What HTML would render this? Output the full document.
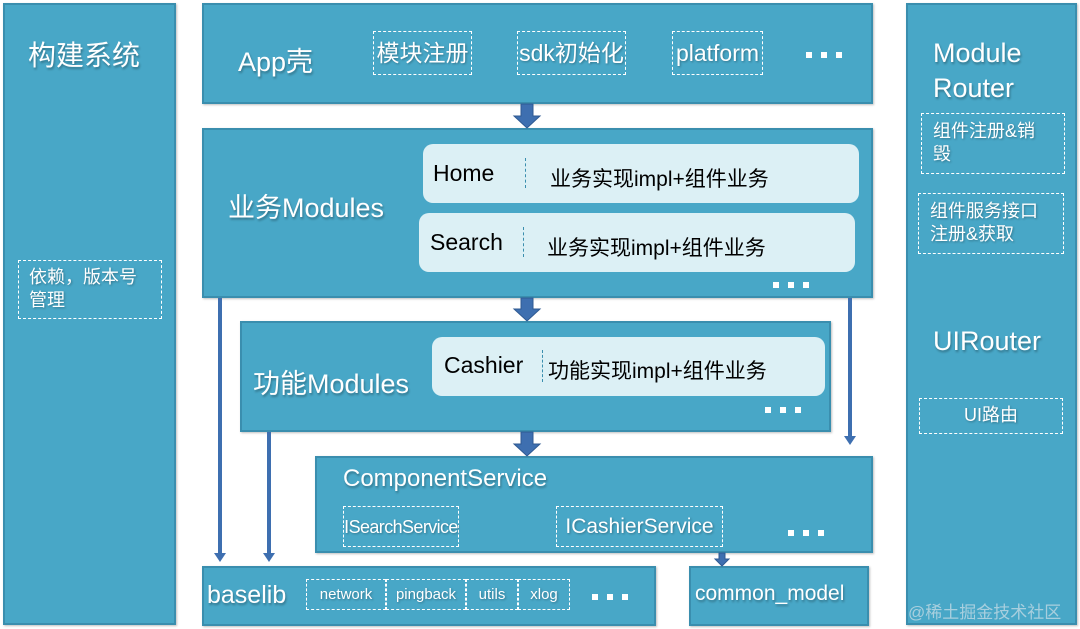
<!DOCTYPE html>
<html><head><meta charset="utf-8"><style>
*{margin:0;padding:0;box-sizing:border-box}
body{width:1080px;height:629px;background:#fff;position:relative;overflow:hidden;font-family:"Liberation Sans","Noto Sans CJK SC",sans-serif}
.b{position:absolute;background:#48a7c7;border:2px solid #3a8eae;box-shadow:1px 1px 2px rgba(0,0,0,.25)}
.t{position:absolute;color:#fff;white-space:nowrap;text-shadow:1px 2px 2px rgba(0,0,0,.3)}
.d{position:absolute;border:1.5px dashed #fff;color:#fff;white-space:nowrap;text-shadow:1px 1px 2px rgba(0,0,0,.3)}
.l{position:absolute;background:#dcf0f5;border-radius:10px;color:#111}
.dots{position:absolute;height:6px;width:38px}
.dots i{position:absolute;top:0;width:6px;height:6px;background:#fff}
.dots i:nth-child(1){left:0}.dots i:nth-child(2){left:15px}.dots i:nth-child(3){left:30px}
.v{position:absolute;border-left:1px dashed #3a8eae;}
</style></head><body>
<div class="b" style="left:3px;top:3px;width:173px;height:622px"></div>
<div class="t" style="left:28px;top:34px;font-size:28px">构建系统</div>
<div class="d" style="left:18px;top:260px;width:144px;height:59px;font-size:18px;line-height:23px;padding:5px 0 0 10px">依赖，版本号<br>管理</div>

<div class="b" style="left:906px;top:3px;width:171px;height:622px"></div>
<div class="t" style="left:933px;top:36px;font-size:27px;line-height:35px">Module<br>Router</div>
<div class="d" style="left:921px;top:113px;width:144px;height:61px;font-size:18px;line-height:23px;padding:6px 0 0 11px">组件注册&amp;销<br>毁</div>
<div class="d" style="left:918px;top:193px;width:146px;height:61px;font-size:18px;line-height:23px;padding:6px 0 0 11px">组件服务接口<br>注册&amp;获取</div>
<div class="t" style="left:933px;top:326px;font-size:27px">UIRouter</div>
<div class="d" style="left:919px;top:398px;width:144px;height:36px;font-size:18px;text-align:center;line-height:32px">UI路由</div>
<div style="position:absolute;left:908px;top:598px;font-size:17px;color:rgba(200,220,230,.75)">@稀土掘金技术社区</div>

<div class="b" style="left:202px;top:3px;width:671px;height:101px"></div>
<div class="t" style="left:238px;top:40px;font-size:27px">App壳</div>
<div class="d" style="left:373px;top:31px;width:99px;height:44px;font-size:23px;text-align:center;line-height:43px">模块注册</div>
<div class="d" style="left:517px;top:31px;width:109px;height:44px;font-size:23px;text-align:center;line-height:43px">sdk初始化</div>
<div class="d" style="left:672px;top:31px;width:91px;height:44px;font-size:23px;text-align:center;line-height:43px">platform</div>
<div class="dots" style="left:806px;top:52px"><i></i><i></i><i></i></div>

<div class="b" style="left:202px;top:128px;width:671px;height:170px"></div>
<div class="t" style="left:228px;top:186px;font-size:27px">业务Modules</div>
<div class="l" style="left:423px;top:144px;width:436px;height:59px"></div>
<div style="position:absolute;left:433px;top:160px;font-size:23px">Home</div>
<div class="v" style="left:525px;top:158px;height:30px"></div>
<div style="position:absolute;left:550px;top:163px;font-size:21px">业务实现impl+组件业务</div>
<div class="l" style="left:419px;top:213px;width:436px;height:59px"></div>
<div style="position:absolute;left:430px;top:229px;font-size:23px">Search</div>
<div class="v" style="left:523px;top:227px;height:30px"></div>
<div style="position:absolute;left:547px;top:232px;font-size:21px">业务实现impl+组件业务</div>
<div class="dots" style="left:773px;top:282px"><i></i><i></i><i></i></div>

<div class="b" style="left:240px;top:321px;width:591px;height:111px"></div>
<div class="t" style="left:253px;top:362px;font-size:27px">功能Modules</div>
<div class="l" style="left:432px;top:337px;width:393px;height:59px"></div>
<div style="position:absolute;left:444px;top:352px;font-size:23px">Cashier</div>
<div class="v" style="left:542px;top:350px;height:32px"></div>
<div style="position:absolute;left:548px;top:355px;font-size:21px">功能实现impl+组件业务</div>
<div class="dots" style="left:765px;top:407px"><i></i><i></i><i></i></div>

<div class="b" style="left:315px;top:456px;width:558px;height:97px"></div>
<div class="t" style="left:343px;top:465px;font-size:24px">ComponentService</div>
<div class="d" style="left:343px;top:506px;width:116px;height:41px;font-size:18px;text-align:center;line-height:40px;letter-spacing:-0.6px">ISearchService</div>
<div class="d" style="left:556px;top:506px;width:167px;height:41px;font-size:21px;text-align:center;line-height:40px">ICashierService</div>
<div class="dots" style="left:788px;top:530px"><i></i><i></i><i></i></div>

<div class="b" style="left:202px;top:566px;width:454px;height:60px"></div>
<div class="t" style="left:207px;top:581px;font-size:25px">baselib</div>
<div class="d" style="left:306px;top:579px;width:80px;height:31px;font-size:15px;text-align:center;line-height:30px">network</div>
<div class="d" style="left:386px;top:579px;width:80px;height:31px;font-size:15px;text-align:center;line-height:30px">pingback</div>
<div class="d" style="left:466px;top:579px;width:52px;height:31px;font-size:15px;text-align:center;line-height:30px">utils</div>
<div class="d" style="left:518px;top:579px;width:52px;height:31px;font-size:15px;text-align:center;line-height:30px">xlog</div>
<div class="dots" style="left:592px;top:594px"><i></i><i></i><i></i></div>

<div class="b" style="left:689px;top:566px;width:180px;height:60px"></div>
<div class="t" style="left:695px;top:582px;font-size:21px">common_model</div>

<svg width="1080" height="629" style="position:absolute;left:0;top:0">
<g fill="#3e6fb0" stroke="#2f5a92" stroke-width="1">
<path d="M521 104h12v12h7l-13 12-13-12h7z"/>
<path d="M521 298h12v11h7l-13 12-13-12h7z"/>
<path d="M521 432h12v12h7l-13 12-13-12h7z"/>
<path d="M719 553h6v6h4l-7 7-7-7h4z"/>
</g>
<g stroke="#3e6fb0" stroke-width="4" fill="#3e6fb0">
<line x1="220" y1="298" x2="220" y2="555"/>
<line x1="269" y1="432" x2="269" y2="555"/>
<line x1="850" y1="298" x2="850" y2="438"/>
</g>
<g fill="#3e6fb0">
<path d="M214 553h12l-6 9z"/><path d="M263 553h12l-6 9z"/><path d="M844 436h12l-6 9z"/>
</g>
</svg>
</body></html>
